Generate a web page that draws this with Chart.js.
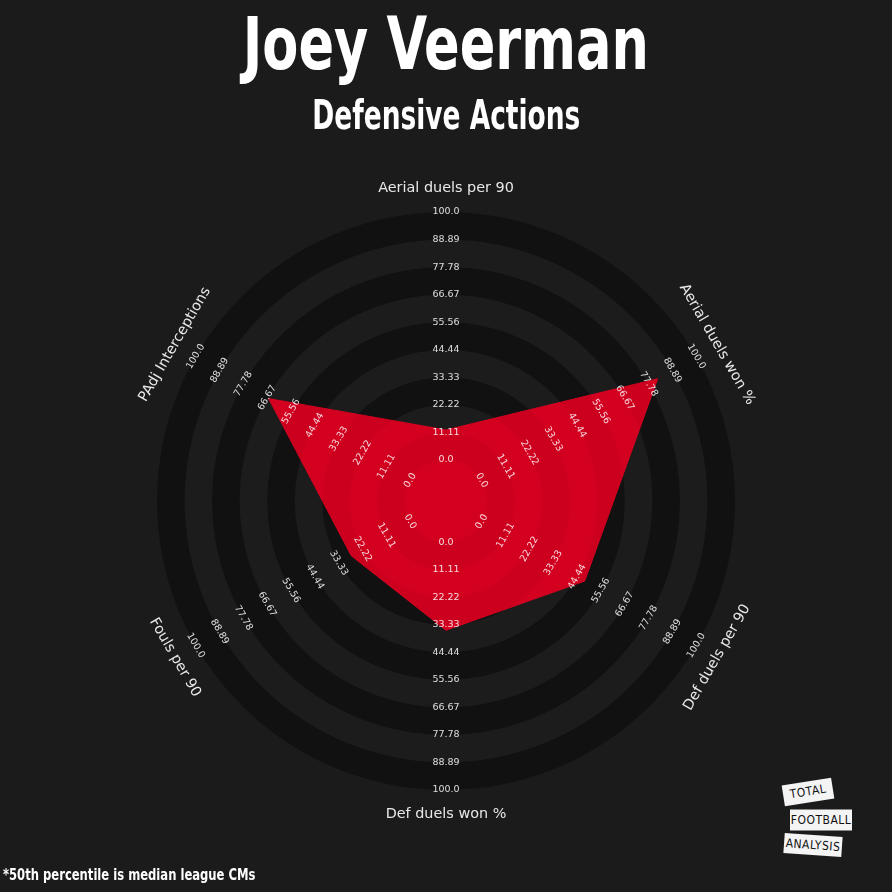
<!DOCTYPE html>
<html>
<head>
<meta charset="utf-8">
<title>Joey Veerman - Defensive Actions</title>
<script src="https://cdn.jsdelivr.net/npm/chart.js@4.4.1/dist/chart.umd.min.js"></script>
<style>
  html, body { margin: 0; padding: 0; background: #1b1b1b; }
  #wrap { position: relative; width: 892px; height: 892px; overflow: hidden; background: #1b1b1b; }
  #radar { position: absolute; left: 0; top: 0; }
  .head {
    position: absolute; left: 0; width: 892px; text-align: center; color: #fff;
    font-family: "DejaVu Sans Condensed", sans-serif; font-weight: bold;
    line-height: 1; white-space: nowrap;
  }
  .head span { display: inline-block; }
  #title { top: 7px; font-size: 73px; }
  #title span { transform: scaleX(0.8); }
  #subtitle { top: 95px; font-size: 40px; }
  #subtitle span { transform: scaleX(0.735); }
  #note {
    position: absolute; left: 3px; top: 867px; color: #fff; font-size: 16px; line-height: 1;
    font-family: "DejaVu Sans Condensed", sans-serif; font-weight: bold; white-space: nowrap;
    transform: scaleX(0.805); transform-origin: left center;
  }
  .logo {
    position: absolute; background: #f4f4f4; color: #111; text-align: center;
    font-family: "DejaVu Sans Condensed", sans-serif; font-size: 12px; letter-spacing: 0.5px;
    transform: translate(-50%, -50%);
  }
</style>
</head>
<body>
<div id="wrap">
  <canvas id="radar" width="892" height="892"></canvas>
  <div id="title" class="head"><span>Joey Veerman</span></div>
  <div id="subtitle" class="head"><span>Defensive Actions</span></div>
  <div id="note">*50th percentile is median league CMs</div>
  <div class="logo" style="left:808px; top:792px; width:50px; height:21px; line-height:21px; transform:translate(-50%,-50%) rotate(-9deg);">TOTAL</div>
  <div class="logo" style="left:821px; top:820px; width:62px; height:21px; line-height:21px;">FOOTBALL</div>
  <div class="logo" style="left:813px; top:845px; width:58px; height:20px; line-height:20px; transform:translate(-50%,-50%) rotate(4deg);">ANALYSIS</div>
</div>
<script>
// ── data ──
const PARAMS = ['Aerial duels per 90', 'Aerial duels won %', 'Def duels per 90',
                'Def duels won %', 'Fouls per 90', 'PAdj Interceptions'];
const PERCENTILES = [12, 82, 48, 35.5, 27.5, 66];
const TICK_LABELS = ['0.0', '11.11', '22.22', '33.33', '44.44', '55.56', '66.67', '77.78', '88.89', '100.0'];
const TICK_VALUES = TICK_LABELS.map(Number);

const RING_DARK = '#111111';
const RING_LIGHT = '#1c1c1c';
const FILL_RED = '#d40020';

// rotation so text runs along the ring, kept upright
function uprightAngle(a) {
  if (a > Math.PI / 2 && a <= 3 * Math.PI / 2) return a - Math.PI;
  return a;
}

const radarDecor = {
  id: 'radarDecor',
  beforeDatasetsDraw(chart) {
    const s = chart.scales.r, ctx = chart.ctx;
    const rad = TICK_VALUES.map(v => s.getDistanceFromCenterForValue(v));
    ctx.save();
    ctx.fillStyle = RING_LIGHT;
    ctx.beginPath();
    ctx.arc(s.xCenter, s.yCenter, rad[0], 0, Math.PI * 2);
    ctx.fill();
    for (let i = 0; i < rad.length - 1; i++) {
      ctx.fillStyle = i % 2 === 0 ? RING_DARK : RING_LIGHT;
      ctx.beginPath();
      ctx.arc(s.xCenter, s.yCenter, rad[i + 1], 0, Math.PI * 2);
      ctx.arc(s.xCenter, s.yCenter, rad[i], 0, Math.PI * 2, true);
      ctx.fill();
    }
    ctx.restore();
  },
  afterDatasetsDraw(chart) {
    // faint ring bands showing through the polygon
    const s = chart.scales.r, ctx = chart.ctx;
    const pts = chart.getDatasetMeta(0).data;
    const rad = TICK_VALUES.map(v => s.getDistanceFromCenterForValue(v));
    ctx.save();
    ctx.beginPath();
    pts.forEach((p, i) => i ? ctx.lineTo(p.x, p.y) : ctx.moveTo(p.x, p.y));
    ctx.closePath();
    ctx.clip();
    ctx.fillStyle = 'rgba(0,0,0,0.035)';
    for (let i = 0; i < rad.length - 1; i += 2) {
      ctx.beginPath();
      ctx.arc(s.xCenter, s.yCenter, rad[i + 1], 0, Math.PI * 2);
      ctx.arc(s.xCenter, s.yCenter, rad[i], 0, Math.PI * 2, true);
      ctx.fill();
    }
    ctx.restore();
  },
  afterDraw(chart) {
    const s = chart.scales.r, ctx = chart.ctx;
    ctx.save();
    ctx.textAlign = 'center';
    ctx.textBaseline = 'middle';
    PARAMS.forEach((name, i) => {
      const rot = uprightAngle(s.getIndexAngle(i));
      // ring value labels along each spoke
      ctx.font = '9.5px "DejaVu Sans"';
      ctx.fillStyle = 'rgba(255,255,255,0.85)';
      TICK_VALUES.forEach((v, k) => {
        const p = s.getPointPosition(i, s.getDistanceFromCenterForValue(v));
        ctx.save();
        ctx.translate(p.x, p.y);
        ctx.rotate(rot);
        ctx.fillText(TICK_LABELS[k], 0, 0);
        ctx.restore();
      });
      // parameter name outside the rings
      const q = s.getPointPosition(i, s.drawingArea + 24);
      ctx.font = '14.4px "DejaVu Sans"';
      ctx.fillStyle = '#e8e8e8';
      ctx.save();
      ctx.translate(q.x, q.y);
      ctx.rotate(rot);
      ctx.fillText(name, 0, 0);
      ctx.restore();
    });
    ctx.restore();
  }
};

new Chart(document.getElementById('radar'), {
  type: 'radar',
  data: {
    labels: PARAMS,
    datasets: [{
      data: PERCENTILES,
      backgroundColor: FILL_RED,
      borderColor: FILL_RED,
      borderWidth: 1,
      fill: 'start',
      pointRadius: 0,
      tension: 0,
    }]
  },
  options: {
    responsive: false,
    animation: false,
    events: [],
    layout: { padding: { left: 157, right: 157, top: 212, bottom: 102 } },
    plugins: { legend: { display: false }, tooltip: { enabled: false } },
    scales: {
      r: {
        min: -100 / 6,   // leaves an empty centre of 1.5 ring widths
        max: 100,
        ticks: { display: false },
        grid: { display: false },
        angleLines: { display: false },
        pointLabels: { display: false },
      }
    }
  },
  plugins: [radarDecor]
});
</script>
</body>
</html>
